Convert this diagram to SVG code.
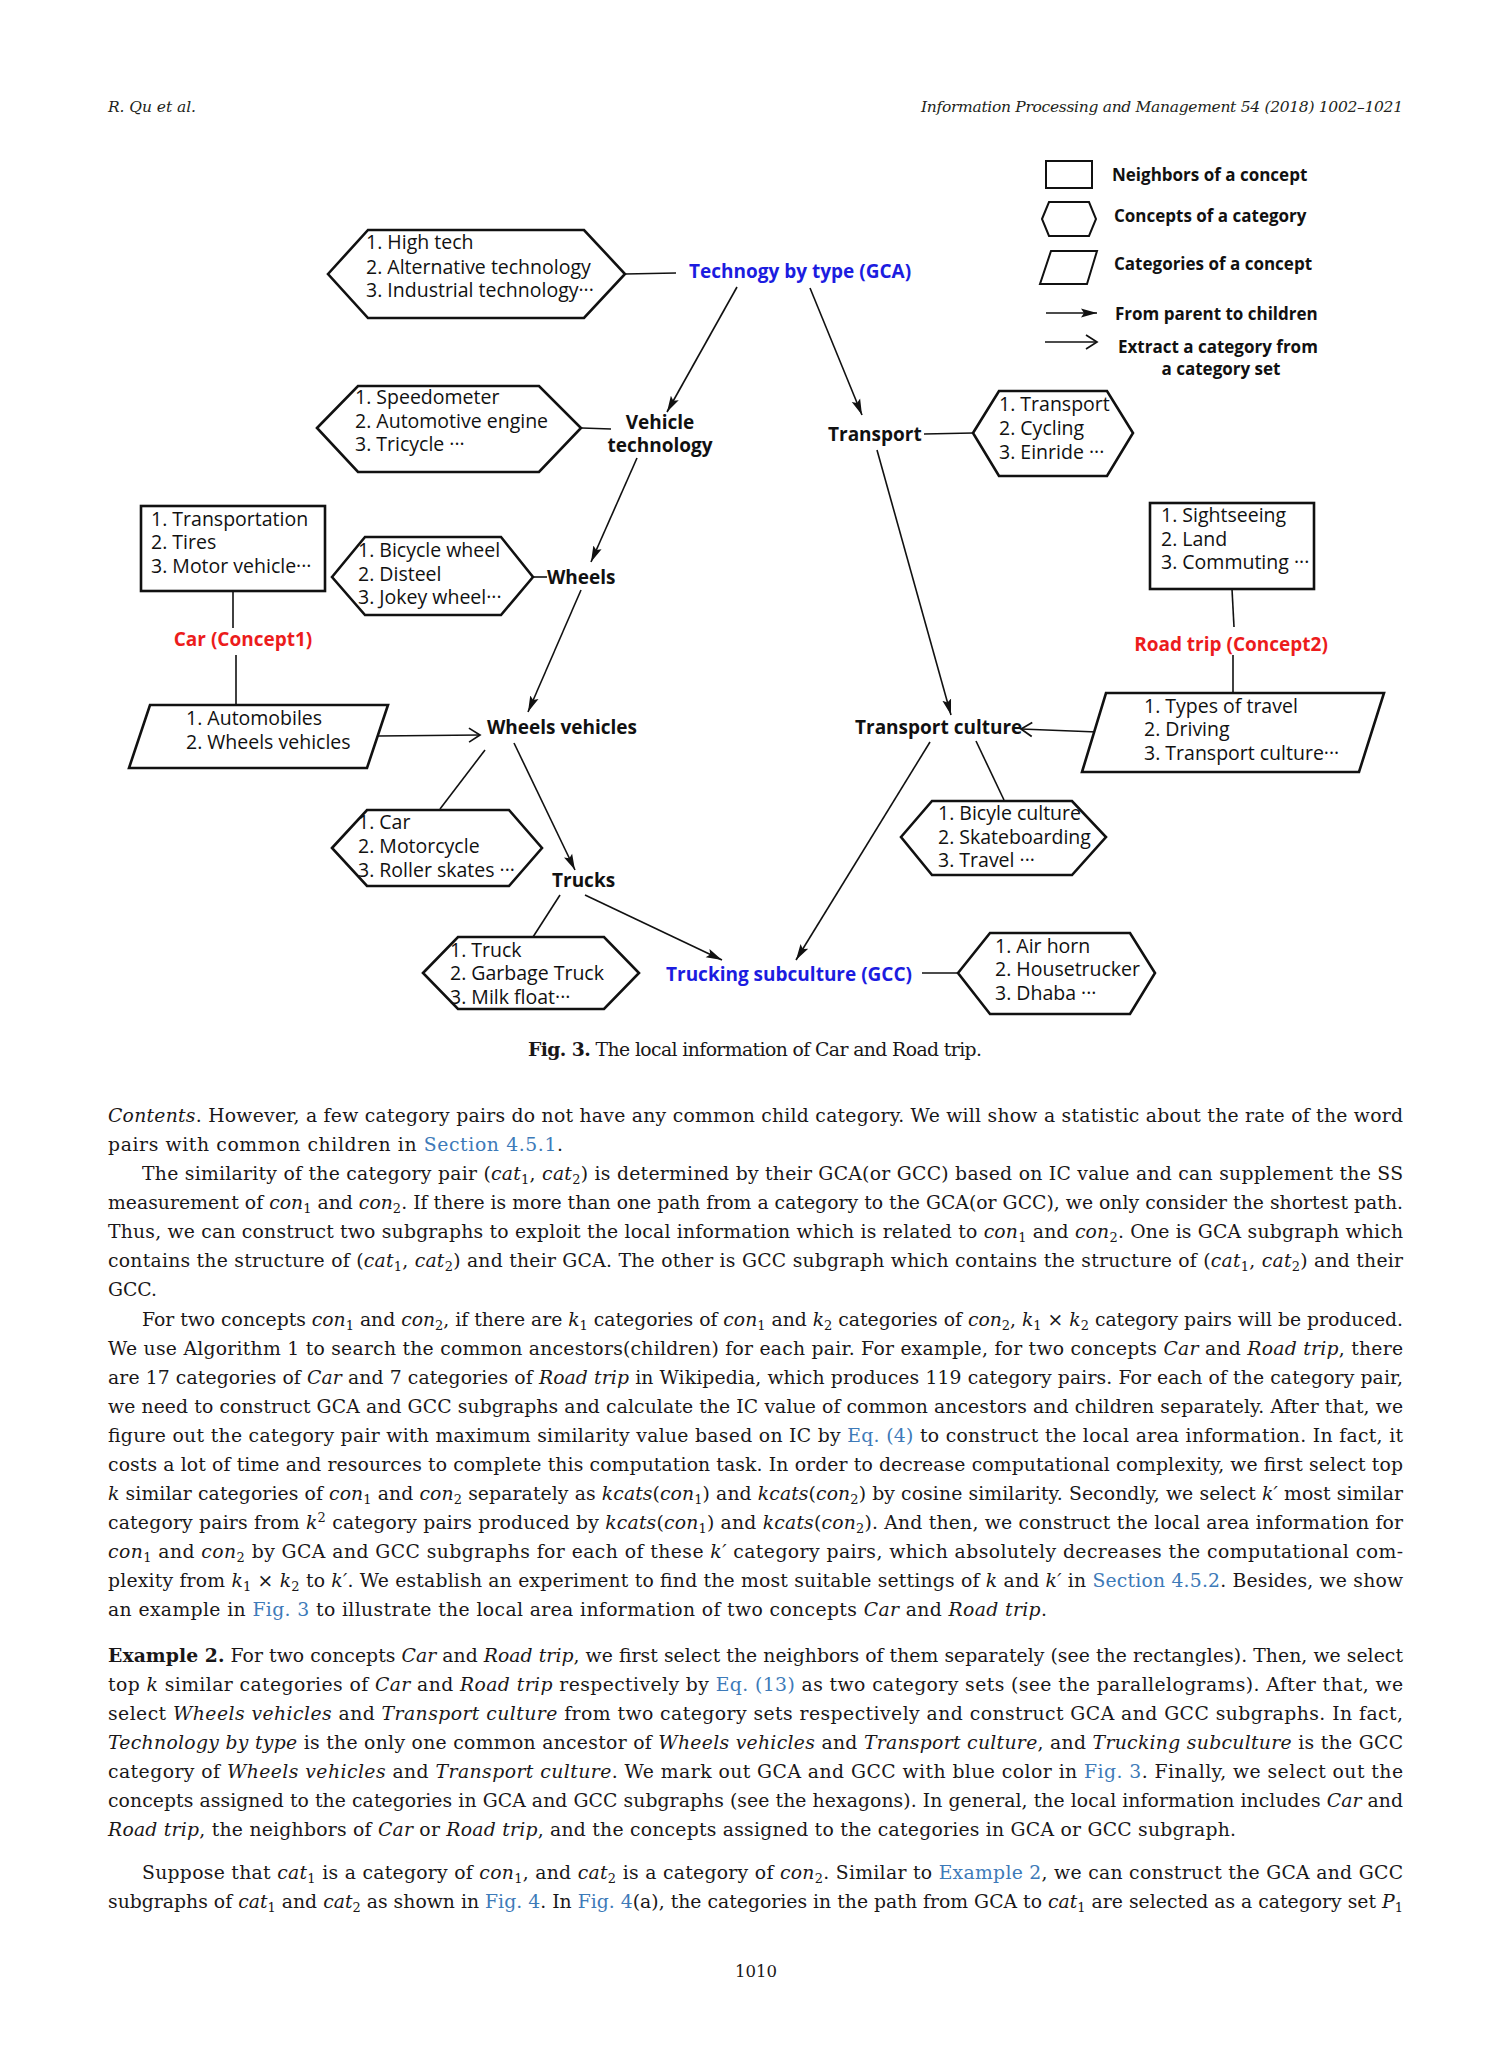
<svg xmlns="http://www.w3.org/2000/svg" width="1512" height="2063" viewBox="0 0 1512 2063">
<style>
.n{font-family:"Open Sans","Noto Sans",sans-serif;font-size:19.5px;fill:#111}
.lb{font-family:"Open Sans","Noto Sans",sans-serif;font-weight:bold;font-size:19px;fill:#111}
.lg{font-family:"Open Sans","Noto Sans",sans-serif;font-weight:bold;font-size:17px;fill:#111}
.blue{fill:#1c1ce0}
.red{fill:#ec1c1c}
.shape{fill:#fff;stroke:#111;stroke-width:2.6}
.c{stroke:#111;stroke-width:1.6;fill:none}
.body{font-family:"DejaVu Serif",serif;font-size:18.8px;fill:#1a1718}
.hd{font-family:"DejaVu Serif",serif;font-style:italic;font-size:15.5px;fill:#231f20}
.i{font-style:italic}
.l{fill:#3d7ab8}
.s{font-size:13px;baseline-shift:-4px}
.sp{font-size:13px;baseline-shift:7px}
</style>
<defs>
<marker id="fa" markerUnits="userSpaceOnUse" markerWidth="18" markerHeight="12" refX="16" refY="6" orient="auto"><path d="M0,1.5 L16,6 L0,10.5 L3,6 z" fill="#111"/></marker>
<marker id="oa" markerUnits="userSpaceOnUse" markerWidth="16" markerHeight="18" refX="14" refY="9" orient="auto"><path d="M3,2 L14,9 L3,16" fill="none" stroke="#111" stroke-width="1.7"/></marker>
</defs>
<rect width="1512" height="2063" fill="#fff"/>

<!-- header -->
<text class="hd" x="108" y="112" textLength="88">R. Qu et al.</text>
<text class="hd" x="921" y="112" textLength="482">Information Processing and Management 54 (2018) 1002–1021</text>

<!-- legend -->
<g id="legend">
<rect x="1046" y="161" width="46" height="27" fill="none" stroke="#111" stroke-width="2"/>
<text class="lg" x="1112" y="181">Neighbors of a concept</text>
<polygon points="1042,219 1049,202 1089,202 1096,219 1089,236 1049,236" fill="none" stroke="#111" stroke-width="2"/>
<text class="lg" x="1114" y="222">Concepts of a category</text>
<polygon points="1051,251 1097,251 1087,284 1040,284" fill="none" stroke="#111" stroke-width="2"/>
<text class="lg" x="1114" y="270">Categories of a concept</text>
<line x1="1046" y1="313" x2="1097" y2="313" class="c" marker-end="url(#fa)"/>
<text class="lg" x="1115" y="320">From parent to children</text>
<line x1="1045" y1="342" x2="1097" y2="342" class="c" marker-end="url(#oa)"/>
<text class="lg" x="1118" y="353">Extract a category from</text>
<text class="lg" x="1221" y="375" text-anchor="middle">a category set</text>
</g>

<!-- connectors -->
<g id="connectors">
<line class="c" x1="625" y1="274" x2="676" y2="273" stroke-width="2.2"/>
<line class="c" x1="737" y1="287" x2="667" y2="412" marker-end="url(#fa)"/>
<line class="c" x1="810" y1="288" x2="862" y2="415" marker-end="url(#fa)"/>
<line class="c" x1="582" y1="428" x2="611" y2="429" stroke-width="2.2"/>
<line class="c" x1="924" y1="434" x2="973" y2="433" stroke-width="2.2"/>
<line class="c" x1="637" y1="458" x2="591" y2="562" marker-end="url(#fa)"/>
<line class="c" x1="533" y1="577" x2="547" y2="577" stroke-width="2.2"/>
<line class="c" x1="581" y1="590" x2="528" y2="712" marker-end="url(#fa)"/>
<line class="c" x1="233" y1="591" x2="233" y2="628"/>
<line class="c" x1="236" y1="655" x2="236" y2="704"/>
<line class="c" x1="378" y1="736" x2="480" y2="735" marker-end="url(#oa)"/>
<line class="c" x1="485" y1="750" x2="440" y2="809"/>
<line class="c" x1="514" y1="743" x2="575" y2="870" marker-end="url(#fa)"/>
<line class="c" x1="560" y1="895" x2="533" y2="937"/>
<line class="c" x1="585" y1="895" x2="722" y2="960" marker-end="url(#fa)"/>
<line class="c" x1="877" y1="450" x2="951" y2="715" marker-end="url(#fa)"/>
<line class="c" x1="1097" y1="732" x2="1021" y2="729" marker-end="url(#oa)"/>
<line class="c" x1="1232" y1="589" x2="1234" y2="627"/>
<line class="c" x1="1233" y1="655" x2="1233" y2="692"/>
<line class="c" x1="976" y1="741" x2="1004" y2="800"/>
<line class="c" x1="930" y1="742" x2="796" y2="960" marker-end="url(#fa)"/>
<line class="c" x1="922" y1="973" x2="958" y2="973" stroke-width="2.2"/>
</g>

<!-- nodes -->
<g id="hex-hightech">
<polygon class="shape" points="328,274 368,230 584,230 625,274 584,318 368,318"/>
<text class="n" x="366" y="249">1. High tech</text>
<text class="n" x="366" y="274">2. Alternative technology</text>
<text class="n" x="366" y="297">3. Industrial technology···</text>
</g>
<g id="gca"><text class="lb blue" x="689" y="278">Technogy by type (GCA)</text></g>

<g id="hex-speedometer">
<polygon class="shape" points="317,428 358,386 539,386 581,428 539,472 358,472"/>
<text class="n" x="355" y="404">1. Speedometer</text>
<text class="n" x="355" y="428">2. Automotive engine</text>
<text class="n" x="355" y="451">3. Tricycle ···</text>
</g>
<g id="vehicle-tech">
<text class="lb" x="660" y="429" text-anchor="middle">Vehicle</text>
<text class="lb" x="660" y="452" text-anchor="middle">technology</text>
</g>
<g id="transport"><text class="lb" x="828" y="441">Transport</text></g>
<g id="hex-transport">
<polygon class="shape" points="973,433 999,391 1107,391 1133,433 1107,476 999,476"/>
<text class="n" x="999" y="411">1. Transport</text>
<text class="n" x="999" y="435">2. Cycling</text>
<text class="n" x="999" y="459">3. Einride ···</text>
</g>

<g id="rect-car">
<rect class="shape" x="141" y="506" width="184" height="85"/>
<text class="n" x="151" y="526">1. Transportation</text>
<text class="n" x="151" y="549">2. Tires</text>
<text class="n" x="151" y="573">3. Motor vehicle···</text>
</g>
<g id="car"><text class="lb red" x="243" y="646" text-anchor="middle">Car (Concept1)</text></g>
<g id="para-car">
<polygon class="shape" points="150,705 388,705 367,768 129,768"/>
<text class="n" x="186" y="725">1. Automobiles</text>
<text class="n" x="186" y="749">2. Wheels vehicles</text>
</g>

<g id="hex-wheels">
<polygon class="shape" points="332,577 365,537 501,537 533,577 501,615 365,615"/>
<text class="n" x="358" y="557">1. Bicycle wheel</text>
<text class="n" x="358" y="581">2. Disteel</text>
<text class="n" x="358" y="604">3. Jokey wheel···</text>
</g>
<g id="wheels"><text class="lb" x="547" y="584">Wheels</text></g>
<g id="wheels-vehicles"><text class="lb" x="487" y="734">Wheels vehicles</text></g>

<g id="hex-car">
<polygon class="shape" points="332,848 367,810 509,810 542,848 509,886 367,886"/>
<text class="n" x="358" y="829">1. Car</text>
<text class="n" x="358" y="853">2. Motorcycle</text>
<text class="n" x="358" y="877">3. Roller skates ···</text>
</g>
<g id="trucks"><text class="lb" x="552" y="887">Trucks</text></g>
<g id="hex-truck">
<polygon class="shape" points="423,973 458,937 604,937 639,973 604,1009 458,1009"/>
<text class="n" x="450" y="957">1. Truck</text>
<text class="n" x="450" y="980">2. Garbage Truck</text>
<text class="n" x="450" y="1004">3. Milk float···</text>
</g>
<g id="gcc"><text class="lb blue" x="666" y="981">Trucking subculture (GCC)</text></g>
<g id="hex-airhorn">
<polygon class="shape" points="958,973 990,933 1130,933 1155,973 1130,1014 990,1014"/>
<text class="n" x="995" y="953">1. Air horn</text>
<text class="n" x="995" y="976">2. Housetrucker</text>
<text class="n" x="995" y="1000">3. Dhaba  ···</text>
</g>

<g id="rect-roadtrip">
<rect class="shape" x="1150" y="503" width="164" height="86"/>
<text class="n" x="1161" y="522">1. Sightseeing</text>
<text class="n" x="1161" y="546">2. Land</text>
<text class="n" x="1161" y="569">3. Commuting ···</text>
</g>
<g id="roadtrip"><text class="lb red" x="1231" y="651" text-anchor="middle">Road trip (Concept2)</text></g>
<g id="para-roadtrip">
<polygon class="shape" points="1106,693 1384,693 1359,772 1082,772"/>
<text class="n" x="1144" y="713">1. Types of travel</text>
<text class="n" x="1144" y="736">2. Driving</text>
<text class="n" x="1144" y="760">3. Transport culture···</text>
</g>
<g id="transport-culture"><text class="lb" x="855" y="734">Transport culture</text></g>
<g id="hex-culture">
<polygon class="shape" points="901,837 932,801 1072,801 1106,837 1072,875 932,875"/>
<text class="n" x="938" y="820">1. Bicyle culture</text>
<text class="n" x="938" y="844">2. Skateboarding</text>
<text class="n" x="938" y="867">3. Travel ···</text>
</g>

<!-- caption -->
<text class="body" x="528" y="1056" textLength="454"><tspan font-weight="bold">Fig. 3.</tspan> The local information of Car and Road trip.</text>

<!-- body text -->
<g class="body">
<text x="108" y="1122" textLength="1295"><tspan class="i">Contents</tspan>. However, a few category pairs do not have any common child category. We will show a statistic about the rate of the word</text>
<text x="108" y="1151" textLength="455">pairs with common children in <tspan class="l">Section 4.5.1</tspan>.</text>

<text x="142" y="1180" textLength="1261">The similarity of the category pair (<tspan class="i">cat</tspan><tspan class="s">1</tspan>, <tspan class="i">cat</tspan><tspan class="s">2</tspan>) is determined by their GCA(or GCC) based on IC value and can supplement the SS</text>
<text x="108" y="1209" textLength="1295">measurement of <tspan class="i">con</tspan><tspan class="s">1</tspan> and <tspan class="i">con</tspan><tspan class="s">2</tspan>. If there is more than one path from a category to the GCA(or GCC), we only consider the shortest path.</text>
<text x="108" y="1238" textLength="1295">Thus, we can construct two subgraphs to exploit the local information which is related to <tspan class="i">con</tspan><tspan class="s">1</tspan> and <tspan class="i">con</tspan><tspan class="s">2</tspan>. One is GCA subgraph which</text>
<text x="108" y="1267" textLength="1295">contains the structure of (<tspan class="i">cat</tspan><tspan class="s">1</tspan>, <tspan class="i">cat</tspan><tspan class="s">2</tspan>) and their GCA. The other is GCC subgraph which contains the structure of (<tspan class="i">cat</tspan><tspan class="s">1</tspan>, <tspan class="i">cat</tspan><tspan class="s">2</tspan>) and their</text>
<text x="108" y="1296">GCC.</text>

<text x="142" y="1326" textLength="1261">For two concepts <tspan class="i">con</tspan><tspan class="s">1</tspan> and <tspan class="i">con</tspan><tspan class="s">2</tspan>, if there are <tspan class="i">k</tspan><tspan class="s">1</tspan> categories of <tspan class="i">con</tspan><tspan class="s">1</tspan> and <tspan class="i">k</tspan><tspan class="s">2</tspan> categories of <tspan class="i">con</tspan><tspan class="s">2</tspan>, <tspan class="i">k</tspan><tspan class="s">1</tspan> × <tspan class="i">k</tspan><tspan class="s">2</tspan> category pairs will be produced.</text>
<text x="108" y="1355" textLength="1295">We use Algorithm 1 to search the common ancestors(children) for each pair. For example, for two concepts <tspan class="i">Car</tspan> and <tspan class="i">Road trip</tspan>, there</text>
<text x="108" y="1384" textLength="1295">are 17 categories of <tspan class="i">Car</tspan> and 7 categories of <tspan class="i">Road trip</tspan> in Wikipedia, which produces 119 category pairs. For each of the category pair,</text>
<text x="108" y="1413" textLength="1295">we need to construct GCA and GCC subgraphs and calculate the IC value of common ancestors and children separately. After that, we</text>
<text x="108" y="1442" textLength="1295">figure out the category pair with maximum similarity value based on IC by <tspan class="l">Eq. (4)</tspan> to construct the local area information. In fact, it</text>
<text x="108" y="1471" textLength="1295">costs a lot of time and resources to complete this computation task. In order to decrease computational complexity, we first select top</text>
<text x="108" y="1500" textLength="1295"><tspan class="i">k</tspan> similar categories of <tspan class="i">con</tspan><tspan class="s">1</tspan> and <tspan class="i">con</tspan><tspan class="s">2</tspan> separately as <tspan class="i">kcats</tspan>(<tspan class="i">con</tspan><tspan class="s">1</tspan>) and <tspan class="i">kcats</tspan>(<tspan class="i">con</tspan><tspan class="s">2</tspan>) by cosine similarity. Secondly, we select <tspan class="i">k′</tspan> most similar</text>
<text x="108" y="1529" textLength="1295">category pairs from <tspan class="i">k</tspan><tspan class="sp">2</tspan> category pairs produced by <tspan class="i">kcats</tspan>(<tspan class="i">con</tspan><tspan class="s">1</tspan>) and <tspan class="i">kcats</tspan>(<tspan class="i">con</tspan><tspan class="s">2</tspan>). And then, we construct the local area information for</text>
<text x="108" y="1558" textLength="1295"><tspan class="i">con</tspan><tspan class="s">1</tspan> and <tspan class="i">con</tspan><tspan class="s">2</tspan> by GCA and GCC subgraphs for each of these <tspan class="i">k′</tspan> category pairs, which absolutely decreases the computational com-</text>
<text x="108" y="1587" textLength="1295">plexity from <tspan class="i">k</tspan><tspan class="s">1</tspan> × <tspan class="i">k</tspan><tspan class="s">2</tspan> to <tspan class="i">k′</tspan>. We establish an experiment to find the most suitable settings of <tspan class="i">k</tspan> and <tspan class="i">k′</tspan> in <tspan class="l">Section 4.5.2</tspan>. Besides, we show</text>
<text x="108" y="1616" textLength="939">an example in <tspan class="l">Fig. 3</tspan> to illustrate the local area information of two concepts <tspan class="i">Car</tspan> and <tspan class="i">Road trip</tspan>.</text>

<text x="108" y="1662" textLength="1295"><tspan font-weight="bold">Example 2.</tspan> For two concepts <tspan class="i">Car</tspan> and <tspan class="i">Road trip</tspan>, we first select the neighbors of them separately (see the rectangles). Then, we select</text>
<text x="108" y="1691" textLength="1295">top <tspan class="i">k</tspan> similar categories of <tspan class="i">Car</tspan> and <tspan class="i">Road trip</tspan> respectively by <tspan class="l">Eq. (13)</tspan> as two category sets (see the parallelograms). After that, we</text>
<text x="108" y="1720" textLength="1295">select <tspan class="i">Wheels vehicles</tspan> and <tspan class="i">Transport culture</tspan> from two category sets respectively and construct GCA and GCC subgraphs. In fact,</text>
<text x="108" y="1749" textLength="1295"><tspan class="i">Technology by type</tspan> is the only one common ancestor of <tspan class="i">Wheels vehicles</tspan> and <tspan class="i">Transport culture</tspan>, and <tspan class="i">Trucking subculture</tspan> is the GCC</text>
<text x="108" y="1778" textLength="1295">category of <tspan class="i">Wheels vehicles</tspan> and <tspan class="i">Transport culture</tspan>. We mark out GCA and GCC with blue color in <tspan class="l">Fig. 3</tspan>. Finally, we select out the</text>
<text x="108" y="1807" textLength="1295">concepts assigned to the categories in GCA and GCC subgraphs (see the hexagons). In general, the local information includes <tspan class="i">Car</tspan> and</text>
<text x="108" y="1836" textLength="1128"><tspan class="i">Road trip</tspan>, the neighbors of <tspan class="i">Car</tspan> or <tspan class="i">Road trip</tspan>, and the concepts assigned to the categories in GCA or GCC subgraph.</text>

<text x="142" y="1879" textLength="1261">Suppose that <tspan class="i">cat</tspan><tspan class="s">1</tspan> is a category of <tspan class="i">con</tspan><tspan class="s">1</tspan>, and <tspan class="i">cat</tspan><tspan class="s">2</tspan> is a category of <tspan class="i">con</tspan><tspan class="s">2</tspan>. Similar to <tspan class="l">Example 2</tspan>, we can construct the GCA and GCC</text>
<text x="108" y="1908" textLength="1295">subgraphs of <tspan class="i">cat</tspan><tspan class="s">1</tspan> and <tspan class="i">cat</tspan><tspan class="s">2</tspan> as shown in <tspan class="l">Fig. 4</tspan>. In <tspan class="l">Fig. 4</tspan>(a), the categories in the path from GCA to <tspan class="i">cat</tspan><tspan class="s">1</tspan> are selected as a category set <tspan class="i">P</tspan><tspan class="s">1</tspan></text>

<text x="756" y="1977" text-anchor="middle" font-size="16.5">1010</text>
</g>
</svg>
